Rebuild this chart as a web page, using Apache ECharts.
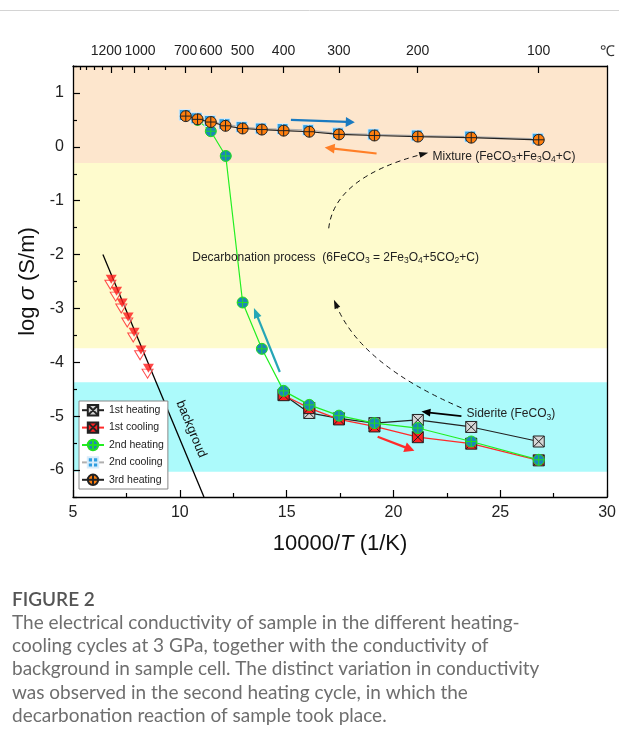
<!DOCTYPE html>
<html><head><meta charset="utf-8">
<script src="https://cdn.jsdelivr.net/npm/echarts@6/dist/echarts.min.js"></script>
<style>html,body{margin:0;padding:0;background:#fff}#c{width:619px;height:744px}</style>
</head><body><div id="c"></div>
<script>
// ---- data ----
const yTickLabels = [-6,-5,-4,-3,-2,-1,0,1];
const yMinorTicks = [-6.5,-5.5,-4.5,-3.5,-2.5,-1.5,-0.5,0.5,1.5];
const topTempLabels = [1200,1000,700,600,500,400,300,200,100];
const topTempMinor = [1600,1500,1400,1300,1100,900,800];

const heat1X = [14.86,16.06,17.45,19.11,21.14,23.64,26.80];
const heat1Y = [-4.60,-4.94,-5.04,-5.13,-5.07,-5.20,-5.47];
const cool1X = [26.80,23.64,21.14,19.11,17.45,16.06,14.86];
const cool1Y = [-5.82,-5.51,-5.39,-5.19,-5.06,-4.85,-4.61];
const heat2X = [26.80,23.64,21.14,19.11,17.45,16.06,14.86,13.84,12.94,12.15,11.45,10.83];
const heat2Y = [-5.81,-5.47,-5.22,-5.13,-4.99,-4.79,-4.53,-3.75,-2.89,-0.17,0.29,0.50];
const cool2X = [10.23,10.78,11.40,12.09,12.89,13.79,14.81,16.01,17.40,19.06,21.09,23.59,26.75];
const cool2Y = [0.59,0.53,0.48,0.42,0.37,0.34,0.33,0.31,0.25,0.23,0.21,0.19,0.15];
const heat3X = [10.28,10.83,11.45,12.14,12.94,13.84,14.86,16.06,17.45,19.11,21.14,23.64,26.80];
const heat3Y = [0.57,0.51,0.46,0.39,0.34,0.32,0.30,0.28,0.23,0.21,0.19,0.17,0.13];
const bgX = [6.79,7.04,7.30,7.58,7.86,8.18,8.53];
const bgY = [-2.46,-2.68,-2.90,-3.16,-3.44,-3.77,-4.11];
const bg2X = [6.75,7.00,7.26,7.54,7.82,8.14,8.49];
const bg2Y = [-2.56,-2.78,-3.00,-3.26,-3.54,-3.87,-4.21];
const bgLineX = [6.40,11.13];
const bgLineY = [-2.00,-6.50];
// bands [from, to, colour]
const bandFrom = [1.5,-0.30,-4.37];
const bandTo = [-0.30,-3.74,-6.03];
const bandColor = ['#FDE6CD','#FEFBCD','#ACFAFB'];

const zip = (xs, ys) => xs.map((x, i) => [x, ys[i]]);
const toX = t => 10000 / (t + 273.15);
const toT = v => Math.round(10000 / v - 273.15);

const SQX = 'path://M0,0L20,0L20,20L0,20ZM0,0L20,20M20,0L0,20';
const CIRP = 'path://M20,10A10,10,0,1,1,0,10A10,10,0,1,1,20,10ZM10,0L10,20M0,10L20,10';
const SQP = 'path://M0,0L20,0L20,20L0,20ZM10,0L10,20M0,10L20,10';
const FONT = '"Liberation Sans", Arial, sans-serif';
const CAPFONT = 'Lato, "Open Sans", sans-serif';

const chart = echarts.init(document.getElementById('c'), null, {renderer: 'canvas'});

function lineSeries(name, data, lineColor, symbol, fill, stroke, z) {
  return {
    name, type: 'line', data, z,
    symbol, symbolSize: 11, showSymbol: true,
    lineStyle: {color: lineColor, width: 1.2},
    itemStyle: {color: fill, borderColor: stroke, borderWidth: 1},
    emphasis: {disabled: true}, animation: false
  };
}
const TF = 14;
const topRich = {
  n: {fontSize: TF, color: '#222', fontFamily: FONT},
  l: {fontSize: TF, color: '#222', fontFamily: FONT, padding: [0, 10, 0, 0]},
  r: {fontSize: TF, color: '#222', fontFamily: FONT, padding: [0, 0, 0, 12]}
};
const topLabelStyle = {fontSize: TF, color: '#222', margin: 8, fontFamily: FONT,
  hideOverlap: false, showMinLabel: true, showMaxLabel: true, rich: topRich,
  formatter: v => {
    const t = toT(v);
    const key = t === topTempLabels[0] ? 'l' : (t === topTempLabels[1] ? 'r' : 'n');
    return '{' + key + '|' + t + '}';
  }};

const option = {
  animation: false,
  grid: {left: 73, right: 11, top: 66, bottom: 247},
  xAxis: [
    {type: 'value', position: 'bottom', min: 5, max: 30, interval: 5, z: 10,
     axisLine: {show: true, onZero: false, lineStyle: {color: '#000', width: 1.3}},
     axisTick: {inside: true, length: 7, lineStyle: {color: '#000', width: 1.2}},
     minorTick: {show: true, splitNumber: 2, length: 4, lineStyle: {color: '#000', width: 1.2}},
     splitLine: {show: false},
     axisLabel: {fontSize: 16, color: '#222', margin: 8, fontFamily: FONT},
     name: '10000/{it|T} (1/K)', nameLocation: 'middle', nameGap: 36,
     nameTextStyle: {fontSize: 22, color: '#111', fontFamily: FONT,
       rich: {it: {fontSize: 22, fontStyle: 'italic', color: '#111', fontFamily: FONT}}}},
    {type: 'value', position: 'top', min: 5, max: 30, z: 10,
     axisLine: {show: true, onZero: false, lineStyle: {color: '#000', width: 1.3}},
     axisTick: {inside: true, length: 7, customValues: topTempLabels.map(toX), lineStyle: {color: '#000', width: 1.2}},
     splitLine: {show: false},
     axisLabel: Object.assign({customValues: topTempLabels.slice(1).map(toX)}, topLabelStyle)},
    {type: 'value', position: 'top', min: 5, max: 30, z: 10,
     axisLine: {show: false, onZero: false},
     axisTick: {inside: true, length: 4, customValues: topTempMinor.map(toX), lineStyle: {color: '#000', width: 1.2}},
     splitLine: {show: false},
     axisLabel: Object.assign({customValues: topTempLabels.slice(0, 1).map(toX)}, topLabelStyle)}
  ],
  yAxis: [
    {type: 'value', position: 'left', min: -6.5, max: 1.5, z: 10,
     axisLine: {show: true, onZero: false, lineStyle: {color: '#000', width: 1.3}},
     axisTick: {inside: true, length: 7, customValues: yTickLabels, lineStyle: {color: '#000', width: 1.2}},
     splitLine: {show: false},
     axisLabel: {fontSize: 16, color: '#222', margin: 9, fontFamily: FONT, customValues: yTickLabels},
     name: 'log {it|σ} (S/m)', nameLocation: 'middle', nameGap: 31, nameRotate: 90,
     nameTextStyle: {fontSize: 22, color: '#111', fontFamily: FONT,
       rich: {it: {fontSize: 22, fontStyle: 'italic', color: '#111', fontFamily: FONT}}}},
    {type: 'value', position: 'left', min: -6.5, max: 1.5, z: 10,
     axisLine: {show: false, onZero: false},
     axisTick: {inside: true, length: 4, customValues: yMinorTicks, lineStyle: {color: '#000', width: 1.2}},
     splitLine: {show: false}, axisLabel: {show: false}},
    {type: 'value', position: 'right', min: -6.5, max: 1.5, z: 10,
     axisLine: {show: true, onZero: false, lineStyle: {color: '#000', width: 1.3}},
     axisTick: {show: false}, splitLine: {show: false}, axisLabel: {show: false}}
  ],
  legend: {
    orient: 'vertical', left: 79, top: 401,
    data: ['1st heating','1st cooling','2nd heating','2nd cooling','3rd heating'],
    itemWidth: 22, itemHeight: 13, itemGap: 5,
    padding: [3, 4, 3, 2],
    backgroundColor: '#fff', borderColor: '#888', borderWidth: 1,
    textStyle: {fontSize: 10.5, color: '#222', fontFamily: FONT},
    selectedMode: false
  },
  series: [
    {name: 'bands', type: 'line', data: [], z: 1, silent: true,
     markArea: {silent: true, data: bandFrom.map((f, i) => [
       {yAxis: f, xAxis: 5, itemStyle: {color: bandColor[i]}}, {yAxis: bandTo[i], xAxis: 30}])}},
    {name: 'background line', type: 'line', data: zip(bgLineX, bgLineY), z: 2, symbol: 'none',
     lineStyle: {color: '#000', width: 1.3}, silent: true},
    {name: 'background 2', type: 'scatter', data: zip(bg2X, bg2Y), z: 3, symbol: 'triangle',
     symbolRotate: 180, symbolSize: [11, 9], silent: true,
     itemStyle: {color: 'rgba(255,255,255,0.6)', borderColor: '#ff2020', borderWidth: 1}},
    {name: 'background', type: 'scatter', data: zip(bgX, bgY), z: 4, symbol: 'triangle',
     symbolRotate: 180, symbolSize: [11, 9], silent: true,
     itemStyle: {color: '#ff1a1a'}},
    lineSeries('1st heating', zip(heat1X, heat1Y), '#222', SQX, '#d6d6d6', '#222', 5),
    lineSeries('1st cooling', zip(cool1X, cool1Y), '#ff2a2a', SQX, '#ff2020', '#222', 6),
    lineSeries('2nd heating', zip(heat2X, heat2Y), '#22ee22', CIRP, '#1a86b8', '#22dd22', 7),
    lineSeries('2nd cooling', zip(cool2X, cool2Y), '#b0b0b0', SQP, '#2f9ee0', '#d8ecfa', 8),
    lineSeries('3rd heating', zip(heat3X, heat3Y), '#222', CIRP, '#ff7f0e', '#222', 9)
  ]
};
chart.setOption(option);

// ---- annotations (data coordinates) ----
const arrows = [
  {from: [15.20, 0.50], to: [18.19, 0.456], color: '#1a7ac0', w: 2.2, L: 9, W: 10},
  {from: [19.21, -0.124], to: [16.78, -0.013], color: '#ff7f27', w: 2.2, L: 10, W: 10},
  {from: [14.68, -4.18], to: [13.47, -2.994], color: '#26a6b6', w: 2.2, L: 10, W: 8},
  {from: [19.26, -5.383], to: [20.98, -5.643], color: '#ff2a2a', w: 2.2, L: 10, W: 10},
  {from: [23.18, -5.0], to: [21.31, -4.915], color: '#000', w: 1.8, L: 9, W: 8}
];
const dashed = [
  {p0: [16.97, -1.513], c: [17.23, -0.568], p2: [21.31, -0.142]},
  {p0: [23.18, -4.846], c: [18.51, -4.05], p2: [17.34, -2.957]}
];
const texts = [
  {at: [21.83, -0.18], text: 'Mixture (FeCO{s|3}+Fe{s|3}O{s|4}+C)'},
  {at: [23.42, -4.957], text: 'Siderite (FeCO{s|3})'},
  {at: [10.58, -2.05], text: 'Decarbonation process  (6FeCO{s|3} = 2Fe{s|3}O{s|4}+5CO{s|2}+C)'}
];
const bgLabel = {at: [10.53, -5.24], text: 'backgroud'};

const P = v => chart.convertToPixel({xAxisIndex: 0, yAxisIndex: 0}, v);
const g = [];
function head(tail, tip, L, W, color) {
  const dx = tip[0] - tail[0], dy = tip[1] - tail[1];
  const len = Math.hypot(dx, dy), ux = dx / len, uy = dy / len;
  const bx = tip[0] - ux * L, by = tip[1] - uy * L;
  g.push({type: 'polygon', z: 50, shape: {points: [tip, [bx - uy * W / 2, by + ux * W / 2], [bx + uy * W / 2, by - ux * W / 2]]},
          style: {fill: color}});
  return [bx + ux * 1, by + uy * 1];
}
arrows.forEach(a => {
  const t = P(a.from), h = P(a.to);
  const b = head(t, h, a.L, a.W, a.color);
  g.push({type: 'line', z: 49, shape: {x1: t[0], y1: t[1], x2: b[0], y2: b[1]}, style: {stroke: a.color, lineWidth: a.w}});
});
dashed.forEach(d => {
  const p0 = P(d.p0), c = P(d.c), p2 = P(d.p2);
  g.push({type: 'bezierCurve', z: 49, shape: {x1: p0[0], y1: p0[1], cpx1: c[0], cpy1: c[1], x2: p2[0], y2: p2[1]},
          style: {stroke: '#111', lineWidth: 1, lineDash: [5, 4], fill: null}});
  const dx = p2[0] - c[0], dy = p2[1] - c[1], l = Math.hypot(dx, dy);
  const tipP = [p2[0] + dx / l * 7, p2[1] + dy / l * 7];
  head(p2, tipP, 9, 6, '#111');
});
const rich = {s: {fontSize: 8.5, padding: [7, 0, 0, 0], fontFamily: FONT, fill: '#222'}};
texts.forEach(t => {
  const p = P(t.at);
  g.push({type: 'text', z: 51, x: p[0], y: p[1],
          style: {text: t.text, fontSize: 12, fontFamily: FONT, fill: '#222', align: 'left', verticalAlign: 'middle', rich}});
});
{
  const p = P(bgLabel.at);
  g.push({type: 'text', z: 51, x: p[0], y: p[1], rotation: -1.18,
          style: {text: bgLabel.text, fontSize: 13, fontFamily: FONT, fill: '#111', align: 'center', verticalAlign: 'middle'}});
}
// unit label and page elements
g.push({type: 'text', z: 51, x: 607, y: 52, style: {text: '℃', fontSize: 15, fontFamily: FONT, fill: '#333', align: 'center', verticalAlign: 'middle'}});
g.push({type: 'line', z: 1, shape: {x1: 0, y1: 10.5, x2: 619, y2: 10.5}, style: {stroke: '#d4d4d4', lineWidth: 1}});
g.push({type: 'text', z: 51, x: 12, y: 600,
        style: {text: 'FIGURE 2', fontSize: 19, fontWeight: 600, fontFamily: CAPFONT, fill: '#555', verticalAlign: 'middle'}});
g.push({type: 'text', z: 51, x: 12, y: 611,
        style: {text: 'The electrical conductivity of sample in the different heating-\ncooling cycles at 3 GPa, together with the conductivity of\nbackground in sample cell. The distinct variation in conductivity\nwas observed in the second heating cycle, in which the\ndecarbonation reaction of sample took place.',
                fontSize: 19, lineHeight: 23.3, fontFamily: CAPFONT, fill: '#6e6e6e', verticalAlign: 'top'}});
chart.setOption({graphic: {elements: g}});
</script></body></html>
